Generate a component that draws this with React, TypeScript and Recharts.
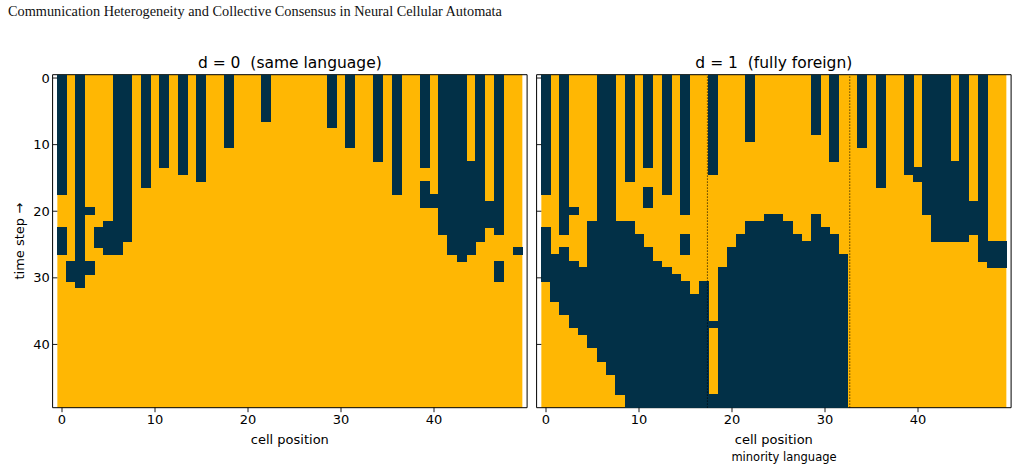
import React from 'react';
import {
  ComposedChart,
  Bar,
  XAxis,
  YAxis,
  ReferenceLine,
  ReferenceArea,
  CartesianGrid,
} from 'recharts';

// Cell states: 1 = dark (majority word "B"), 0 = amber.
const DARK = '#023047';
const AMBER = '#ffb703';
const SANS = 'DejaVu Sans, sans-serif';

// Cell positions along the 1-D automaton (categories on the x axis).
const CELLS = [
  0, 1, 2, 3, 4, 5, 6, 7, 8, 9, 10, 11, 12, 13, 14, 15, 16, 17, 18, 19, 20, 21, 22, 23, 24,
  25, 26, 27, 28, 29, 30, 31, 32, 33, 34, 35, 36, 37, 38, 39, 40, 41, 42, 43, 44, 45, 46, 47, 48, 49,
];
const TIME_DOMAIN: [number, number] = [-0.5, 49.5];
const CELL_TICK_EVERY = 10;
const TIME_TICKS = [0, 10, 20, 30, 40];

// Dark runs per cell, as [first step, last step] (inclusive). d = 0.
const SAME_LANGUAGE_RUNS: number[][][] = [
  [[0, 17], [23, 26]], [[28, 30]], [[0, 31]], [[20, 20], [28, 29]], [[23, 25]],
  [[22, 26]], [[0, 26]], [[0, 24]], [], [[0, 16]],
  [], [[0, 13]], [], [[0, 14]], [],
  [[0, 15]], [], [], [[0, 10]], [],
  [], [], [[0, 6]], [], [],
  [], [], [], [], [[0, 7]],
  [], [[0, 10]], [], [], [[0, 12]],
  [], [[0, 17]], [], [], [[0, 13], [16, 19]],
  [[18, 19]], [[0, 23]], [[0, 26]], [[0, 27]], [[13, 26]],
  [[0, 24]], [[19, 22]], [[0, 23], [28, 30]], [], [[26, 26]],
];

// Dark runs per cell for d = 1 (cells 18..32 speak the minority language).
const FULLY_FOREIGN_RUNS: number[][][] = [
  [[0, 17], [23, 30]], [[27, 33]], [[0, 23], [26, 35]], [[20, 20], [28, 37]], [[29, 38]],
  [[22, 40]], [[0, 42]], [[0, 44]], [[22, 47]], [[0, 15], [22, 49]],
  [[24, 49]], [[0, 13], [17, 19], [26, 49]], [[28, 49]], [[0, 17], [29, 49]], [[30, 49]],
  [[0, 20], [24, 26], [31, 49]], [[33, 49]], [[31, 49]], [[0, 14], [37, 37], [48, 49]], [[29, 49]],
  [[26, 49]], [[24, 49]], [[0, 9], [22, 49]], [[22, 49]], [[21, 49]],
  [[21, 49]], [[22, 49]], [[24, 49]], [[25, 49]], [[0, 8], [21, 49]],
  [[23, 49]], [[0, 12], [24, 49]], [[27, 49]], [], [[0, 10]],
  [], [[0, 16]], [], [], [[0, 14]],
  [[14, 15]], [[0, 20]], [[0, 24]], [[0, 24]], [[13, 24]],
  [[0, 24]], [[19, 23]], [[0, 27]], [[25, 28]], [[25, 28]],
];

// Borders of the minority-language block.
const MINORITY_BOUNDS = [17.5, 32.5];

const RUN_KEYS = ['run0', 'run1', 'run2'];
const RUN_AXES = [0, 'r1', 'r2'];

function buildRows(runs: number[][][]) {
  return CELLS.map((cell, i) => {
    const row: Record<string, any> = { cell };
    runs[i].forEach((r, k) => {
      row[RUN_KEYS[k]] = [r[0] - 0.5, r[1] + 0.5];
    });
    return row;
  });
}

const CHART_W = 530;
const CHART_H = 470;
const Y_AXIS_W = 40;
const X_AXIS_H = 30;
const MARGIN = { top: 74.7, right: 7.65, bottom: 32.3, left: 17.35 };

function Panel({
  runs,
  showTimeLabels,
  bounds,
}: {
  runs: number[][][];
  showTimeLabels: boolean;
  bounds: number[];
}) {
  const rows = buildRows(runs);
  const tickStyle = { fontSize: 13, fill: '#000', fontFamily: SANS };
  return (
    <ComposedChart
      className="ca-panel"
      width={CHART_W}
      height={CHART_H}
      data={rows}
      margin={MARGIN}
      barCategoryGap={0}
      barGap={0}
    >
      <CartesianGrid horizontal={false} vertical={false} fill={AMBER} />
      <XAxis
        dataKey="cell"
        interval={CELL_TICK_EVERY - 1}
        height={X_AXIS_H}
        tickSize={4.5}
        tickMargin={3}
        axisLine={false}
        tickLine={{ stroke: '#000', strokeWidth: 0.9 }}
        tick={tickStyle}
      />
      <XAxis xAxisId="r1" dataKey="cell" hide />
      <XAxis xAxisId="r2" dataKey="cell" hide />
      <XAxis xAxisId="num" type="number" domain={TIME_DOMAIN} allowDataOverflow hide />
      <YAxis
        type="number"
        domain={TIME_DOMAIN}
        reversed
        allowDataOverflow
        ticks={TIME_TICKS}
        interval={0}
        width={Y_AXIS_W}
        tickSize={4.5}
        tickMargin={3}
        axisLine={false}
        tickLine={{ stroke: '#000', strokeWidth: 0.9 }}
        tick={tickStyle}
        tickFormatter={(v: number) => (showTimeLabels ? String(v) : '')}
      />
      {RUN_KEYS.map((key, k) => (
        <Bar
          key={key}
          dataKey={key}
          xAxisId={RUN_AXES[k]}
          fill={DARK}
          stroke={DARK}
          strokeWidth={1}
          isAnimationActive={false}
        />
      ))}
      {bounds.map((b) => (
        <ReferenceLine
          key={b}
          xAxisId="num"
          x={b}
          stroke="#000"
          strokeWidth={1}
          strokeOpacity={0.85}
          strokeDasharray="1.2 1.8"
        />
      ))}
      <ReferenceArea
        xAxisId="num"
        x1={TIME_DOMAIN[0]}
        x2={TIME_DOMAIN[1]}
        y1={TIME_DOMAIN[0]}
        y2={TIME_DOMAIN[1]}
        fill="none"
        fillOpacity={0}
        stroke="#000"
        strokeWidth={1}
        ifOverflow="visible"
      />
    </ComposedChart>
  );
}

const PANEL_OFFSET = 484;
const PLOT_CX = MARGIN.left + Y_AXIS_W + (CHART_W - MARGIN.left - Y_AXIS_W - MARGIN.right) / 2;
const PLOT_CY = MARGIN.top + (CHART_H - MARGIN.top - MARGIN.bottom - X_AXIS_H) / 2;

const textCommon = { fontFamily: SANS, fill: '#000', xmlSpace: 'preserve' as const };

// Snap the cell rectangles to whole pixels so neighbouring cells leave no seams.
const CELL_CSS = '.ca-panel .recharts-bar-rectangle path { shape-rendering: crispEdges; }';

export default function App() {
  return (
    <div
      style={{
        position: 'absolute',
        left: 0,
        top: 0,
        width: 1014,
        height: 470,
        background: '#fff',
        overflow: 'hidden',
      }}
    >
      <style>{CELL_CSS}</style>
      <div style={{ position: 'absolute', left: 0, top: 0 }}>
        <Panel runs={SAME_LANGUAGE_RUNS} showTimeLabels bounds={[]} />
      </div>
      <div style={{ position: 'absolute', left: PANEL_OFFSET, top: 0 }}>
        <Panel runs={FULLY_FOREIGN_RUNS} showTimeLabels={false} bounds={MINORITY_BOUNDS} />
      </div>
      <svg
        width={1014}
        height={470}
        style={{ position: 'absolute', left: 0, top: 0, pointerEvents: 'none', whiteSpace: 'pre' }}
      >
        <text x={8} y={16} fontFamily="Liberation Serif, serif" fontSize={14.3} fill="#111">
          Communication Heterogeneity and Collective Consensus in Neural Cellular Automata
        </text>
        <text x={PLOT_CX} y={67.5} textAnchor="middle" fontSize={15.5} {...textCommon}>
          {'d = 0  (same language)'}
        </text>
        <text x={PLOT_CX + PANEL_OFFSET} y={67.5} textAnchor="middle" fontSize={15.5} {...textCommon}>
          {'d = 1  (fully foreign)'}
        </text>
        <text x={PLOT_CX} y={444} textAnchor="middle" fontSize={13} {...textCommon}>
          cell position
        </text>
        <text x={PLOT_CX + PANEL_OFFSET} y={444} textAnchor="middle" fontSize={13} {...textCommon}>
          cell position
        </text>
        <text x={784} y={461} textAnchor="middle" fontSize={11.5} {...textCommon}>
          minority language
        </text>
        <text
          transform={`translate(24, ${PLOT_CY}) rotate(-90)`}
          textAnchor="middle"
          fontSize={13}
          {...textCommon}
        >
          time step →
        </text>
      </svg>
    </div>
  );
}
